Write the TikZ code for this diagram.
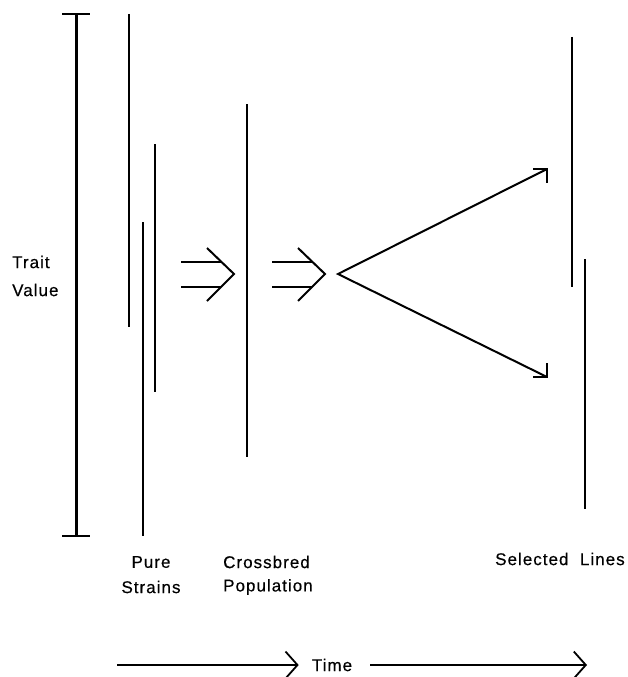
\documentclass[tikz,border=0pt]{standalone}
\usepackage{fontspec}
\newfontfamily\labfont[LetterSpace=6,FakeBold=0.4]{Liberation Sans}
\usetikzlibrary{arrows.meta}
\begin{document}
\begin{tikzpicture}[x=1pt,y=-1pt,line cap=butt,
  bar/.style={line width=2pt},
  thickbar/.style={line width=2.6pt},
  axisline/.style={line width=3pt},
  chev/.style={line width=2pt,line join=miter},
  lbl/.style={font=\labfont\fontsize{17}{19}\selectfont,inner sep=0pt},
  timearr/.style={line width=1.8pt,-{Straight Barb[length=12pt,width=27pt,line width=1.8pt]}}]
\useasboundingbox (0,0) rectangle (628,677);
% trait axis
\coordinate (axT) at (76,14);
\coordinate (axB) at (76,536);
\draw[axisline] (axT) -- (axB);
\draw[line width=2.5pt] (62,14) -- (90,14);
\draw[line width=2.5pt] (62,536) -- (90,536);
\node[lbl,anchor=west] (trait) at (12,262) {Trait};
\node[lbl,anchor=west] (value) at (12,290) {Value};
% pure strains
\draw[bar] (129,14) -- (129,327);
\draw[line width=1.8pt] (143,222) -- (143,536);
\draw[thickbar] (155,144) -- (155,392);
% first double arrow
\draw[bar] (181,262) -- (221,262);
\draw[bar] (181,287) -- (221,287);
\draw[chev] (207,248) -- (234,274) -- (207,301);
% crossbred
\draw[bar] (247,104) -- (247,457);
% second double arrow
\draw[bar] (272,262) -- (312,262);
\draw[bar] (272,287) -- (312,287);
\draw[chev] (298,248) -- (325,274) -- (298,301);
% split
\coordinate (split) at (338,274);
\coordinate (upT) at (547,169);
\coordinate (loT) at (547,377);
\draw[chev] (upT) -- (split) -- (loT);
\draw[chev] (533,169) -- (upT) -- (547,183);
\draw[chev] (533,377) -- (loT) -- (547,363);
% selected lines
\draw[bar] (572,37) -- (572,287);
\draw[thickbar] (585,259) -- (585,509);
% labels
\node[lbl] (pure) at (151,562) {Pure};
\node[lbl] (strains) at (151,587) {Strains};
\node[lbl,anchor=west] (cross) at (223,562) {Crossbred};
\node[lbl,anchor=west] (pop) at (223,587) {Population};
\node[lbl,anchor=west] (sel) at (495,559) {Selected~~Lines};
% time
\node[lbl] (time) at (332,665) {Time};
\coordinate (t0) at (117,665);
\coordinate (t1) at (587,665);
\draw[timearr] (t0) -- ([xshift=-13pt]time.west);
\draw[timearr] ([xshift=18pt]time.east) -- (t1);
\end{tikzpicture}
\end{document}
